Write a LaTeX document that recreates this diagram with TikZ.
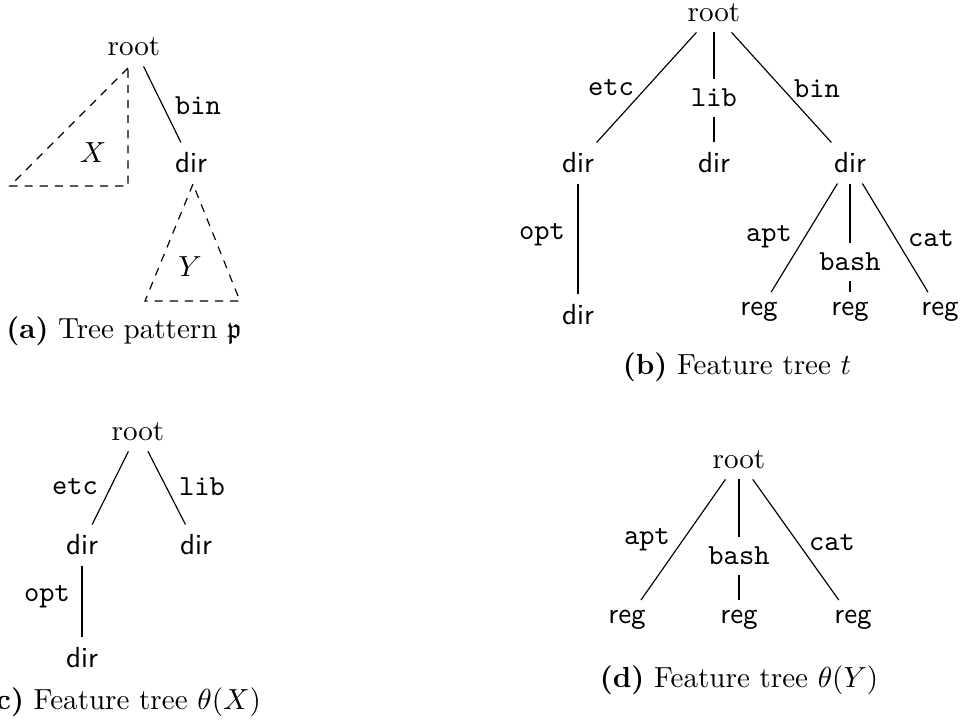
\documentclass[tikz,border=0pt]{standalone}
\usepackage{amssymb}
\begin{document}
\begin{tikzpicture}[x=0.344pt,y=-0.344pt,
  rt/.style={font=\rmfamily},
  sf/.style={font=\sffamily},
  el/.style={font=\ttfamily},
  captext/.style={font=\rmfamily},
  tri/.style={dash pattern=on 2.8pt off 2.4pt}]
\useasboundingbox (0,0) rectangle (963,726);
% (a)
\node[rt] (ar) at (134,47) {root};
\node[sf] (ad) at (191,163) {dir};
\draw (ar) -- (ad);
\node[el] (abin) at (198,106) {bin};
\draw[tri] (128,68) -- (10,186) -- (128,186) -- cycle;
\node (ax) at (93,153) {$X$};
\draw[tri] (193,184) -- (145,301) -- (240,301) -- cycle;
\node (ay) at (190,267) {$Y$};
\node[captext] (capa) at (124,331) {\textbf{(a)} Tree pattern $\mathfrak{p}$};
% (b)
\node[rt] (br) at (714,13) {root};
\node[sf] (b1) at (578,163) {dir};
\node[sf] (b2) at (714,163) {dir};
\node[sf] (b3) at (850,163) {dir};
\node[sf] (b4) at (578,315) {dir};
\node[sf] (b5) at (759,312) {reg};
\node[sf] (b6) at (850,312) {reg};
\node[sf] (b7) at (940,312) {reg};
\node[el] (betc) at (611,88) {etc};
\node[el] (blib) at (714,98) {lib};
\node[el] (bbin) at (817,89) {bin};
\node[el] (bopt) at (542,235) {opt};
\node[el] (bapt) at (769,237) {apt};
\node[el] (bbash) at (850,262) {bash};
\node[el] (bcat) at (931,239) {cat};
\draw (br) -- (b1);
\draw (br) -- (blib) -- (b2);
\draw (br) -- (b3);
\draw (b1) -- (b4);
\draw (b3) -- (b5);
\draw (b3) -- (bbash) -- (b6);
\draw (b3) -- (b7);
\node[captext] (capb) at (737,367) {\textbf{(b)} Feature tree $t$};
% (c)
\node[rt] (cr) at (138,432) {root};
\node[sf] (c1) at (82,545) {dir};
\node[sf] (c2) at (196,545) {dir};
\node[sf] (c3) at (82,658) {dir};
\node[el] (cetc) at (75,487) {etc};
\node[el] (clib) at (202,487) {lib};
\node[el] (copt) at (47,597) {opt};
\draw (cr) -- (c1);
\draw (cr) -- (c2);
\draw (c1) -- (c3);
\node[captext] (capc) at (122,702) {\textbf{(c)} Feature tree $\theta(X)$};
% (d)
\node[rt] (dr) at (739,460) {root};
\node[sf] (d1) at (627,620) {reg};
\node[sf] (d2) at (739,620) {reg};
\node[sf] (d3) at (853,620) {reg};
\node[el] (dapt) at (647,540) {apt};
\node[el] (dbash) at (739,556) {bash};
\node[el] (dcat) at (832,543) {cat};
\draw (dr) -- (d1);
\draw (dr) -- (dbash) -- (d2);
\draw (dr) -- (d3);
\node[captext] (capd) at (739,680) {\textbf{(d)} Feature tree $\theta(Y)$};
\end{tikzpicture}
\end{document}
